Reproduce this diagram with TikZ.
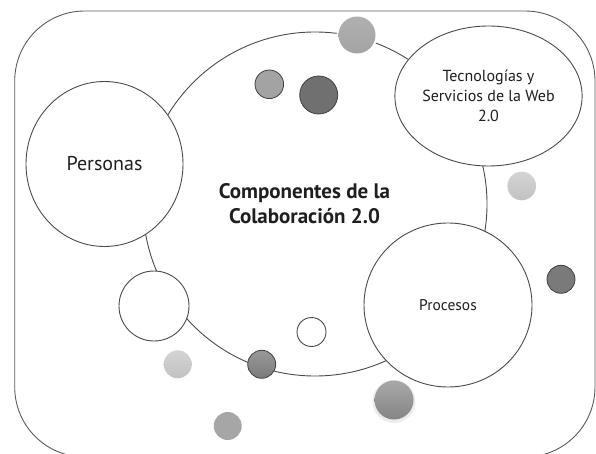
\documentclass[tikz,border=0pt]{standalone}
\usepackage{fontspec}
\setmainfont{PT Sans}
\usetikzlibrary{shapes.geometric}
\definecolor{linec}{HTML}{4A4A4A}
\definecolor{framec}{HTML}{5A5A5A}
\definecolor{txtc}{HTML}{1E1E1E}
\tikzset{
  x=1pt, y=-1pt,
  bigell/.style={ellipse, draw=linec, line width=0.9pt, fill=white, inner sep=0pt, align=center, text=txtc},
  wcirc/.style={circle, draw=linec, line width=0.9pt, fill=white, inner sep=0pt},
  softdot/.style={circle, inner sep=0pt, draw=none},
  rimdot/.style={circle, inner sep=0pt, draw=black!75, line width=0.8pt},
}
\begin{document}
\begin{tikzpicture}
\useasboundingbox (0,0) rectangle (596,454);
% frame
\draw[framec, line width=0.9pt, rounded corners=70pt] (14.7,11) rectangle (595,457);
% central circle
\node[circle, draw=linec, line width=0.9pt, minimum size=344pt, inner sep=0pt] (core) at (315,204) {};
\node[text=txtc, align=center, font=\bfseries\fontsize{21}{25.5}\selectfont] (title) at (304.5,203.5) {Componentes de la\\Colaboración 2.0};
% main ellipses
\node[bigell, minimum width=157pt, minimum height=165pt, font=\fontsize{20}{24}\selectfont] (personas) at (104.5,164) {Personas};
\node[bigell, minimum width=182pt, minimum height=140pt, font=\fontsize{16}{20}\selectfont] (tec) at (488.5,96) {Tecnologías y\\Servicios de la Web\\2.0};
\node[bigell, minimum width=168pt, minimum height=164pt, font=\fontsize{15.5}{19}\selectfont] (proc) at (448,305) {Procesos};
% white circles
\node[wcirc, minimum size=70pt] (wl) at (154,306) {};
\node[wcirc, minimum size=29pt] (ws) at (311.5,332) {};
% gray dots
\node[softdot, minimum size=41pt, fill=white] (c1halo) at (357,35) {};
\node[softdot, minimum size=37pt, top color=black!31, bottom color=black!36] (c1) at (357,35) {};
\node[rimdot, minimum size=28.6pt, fill=black!36] (c2) at (269.3,84.3) {};
\node[rimdot, minimum size=38pt, fill=black!56] (c3) at (318.7,95) {};
\node[softdot, minimum size=28.6pt, top color=black!17, bottom color=black!24] (c4) at (521.7,186) {};
\node[rimdot, minimum size=28pt, fill=black!52] (c5) at (561,279.3) {};
\node[softdot, minimum size=43pt, fill=black!12, opacity=0.6] (c6shadow) at (394,401.5) {};
\node[softdot, minimum size=39pt, top color=black!34, bottom color=black!48] (c6) at (394,400) {};
\node[softdot, minimum size=28pt, top color=black!17, bottom color=black!24] (c7) at (177.7,364.3) {};
\node[rimdot, minimum size=28pt, top color=black!40, bottom color=black!52] (c8) at (261.7,364.3) {};
\node[softdot, minimum size=28pt, fill=black!35] (c9) at (227.7,426) {};
\end{tikzpicture}
\end{document}
